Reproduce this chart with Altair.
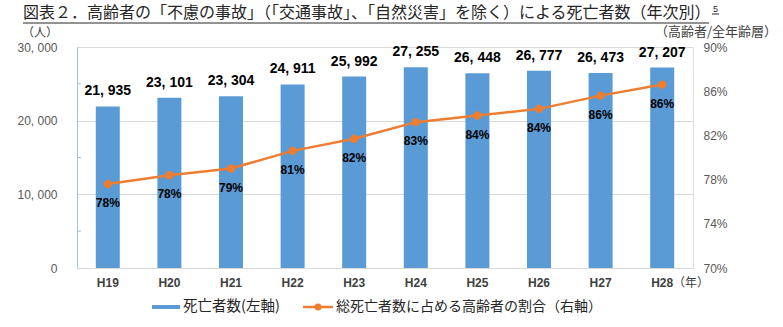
import altair as alt
import pandas as pd

years = ["H19", "H20", "H21", "H22", "H23", "H24", "H25", "H26", "H27", "H28"]
deaths = [21935, 23101, 23304, 24911, 25992, 27255, 26448, 26777, 26473, 27207]
ratio = [77.6, 78.4, 79.0, 80.6, 81.7, 83.2, 83.8, 84.4, 85.6, 86.6]
ratio_labels = ["78%", "78%", "79%", "81%", "82%", "83%", "84%", "84%", "86%", "86%"]
minor_ticks = [5000, 15000, 25000]

title_text = "図表２．高齢者の「不慮の事故」（「交通事故」、「自然災害」を除く）による死亡者数（年次別）"
left_unit = "（人）"
right_unit = "（高齢者/全年齢層）"
x_unit = "（年）"
legend_bar = "死亡者数(左軸)"
legend_line = "総死亡者数に占める高齢者の割合（右軸）"

df = pd.DataFrame({"year": years, "deaths": deaths, "ratio": ratio, "rlabel": ratio_labels})
df_minor = pd.DataFrame({"deaths": minor_ticks})

BLUE = "#5B9BD5"
ORANGE = "#ED7D31"
NUM = "Liberation Sans"
JP = "Noto Sans CJK JP"

W, H = 616, 221
PL, PT = 77, 47

x = alt.X(
    "year:N", sort=years,
    scale=alt.Scale(paddingInner=0, paddingOuter=0),
    axis=alt.Axis(title=None, labelAngle=0, domain=True, domainColor="#D9D9D9",
                  ticks=False, labelPadding=9, labelFont=NUM, labelFontSize=12,
                  labelFontWeight="bold", labelColor="#404040", grid=False),
)
yL = alt.Y(
    "deaths:Q",
    scale=alt.Scale(domain=[0, 30000]),
    axis=alt.Axis(title=None, values=[0, 10000, 20000, 30000],
                  labelExpr="replace(format(datum.value, ','), ',', ', ')",
                  grid=True, gridColor="#D9D9D9", domainColor="#9DC3E6",
                  ticks=False, tickSize=0, labelPadding=20, labelFont=NUM,
                  labelFontSize=12, labelColor="#595959"),
)
yR = alt.Y(
    "ratio:Q",
    scale=alt.Scale(domain=[70, 90]),
    axis=alt.Axis(title=None, orient="right", values=[70, 74, 78, 82, 86, 90],
                  labelExpr="datum.value + '%'", grid=False, domain=False,
                  ticks=False, tickSize=0, labelPadding=10, labelFont=NUM,
                  labelFontSize=12, labelColor="#595959"),
)

bars = alt.Chart(df).mark_bar(size=24, color=BLUE).encode(x=x, y=yL)
bar_labels = alt.Chart(df).transform_calculate(
    lbl="replace(format(datum.deaths, ','), ',', ', ')"
).mark_text(dy=-15, font=NUM, fontSize=14, fontWeight="bold", color="black").encode(
    x=x, y=yL, text="lbl:N")
minor = alt.Chart(df_minor).mark_rule(color="#9DC3E6", strokeWidth=1).encode(
    y=yL, x=alt.value(0), x2=alt.value(4))

left_layer = alt.layer(bars, bar_labels, minor)

line = alt.Chart(df).mark_line(
    color=ORANGE, strokeWidth=2.5,
    point=alt.OverlayMarkDef(color=ORANGE, size=70, filled=True, opacity=1),
).encode(x=x, y=yR)
pct_labels = alt.Chart(df).mark_text(dy=19, font=NUM, fontSize=12, fontWeight="bold", color="black").encode(
    x=x, y=yR, text="rlabel:N")
right_layer = alt.layer(line, pct_labels)

one = pd.DataFrame({"a": [0]})


def label(txt, px, py, size=12, color="#595959", align="left", weight="normal", font=JP):
    return alt.Chart(pd.DataFrame({"t": [txt]})).mark_text(
        align=align, baseline="middle", fontSize=size, color=color, font=font, fontWeight=weight
    ).encode(text="t:N", x=alt.value(px - PL), y=alt.value(py - PT))


annotations = alt.layer(
    label(title_text, 23, 13, size=16, color="#262626"),
    alt.Chart(one).mark_rule(color="#262626", strokeWidth=1).encode(
        x=alt.value(23 - PL), x2=alt.value(709 - PL), y=alt.value(23 - PT)),
    label("5", 713, 9, size=9, color="#262626", font="Liberation Sans"),
    alt.Chart(one).mark_rule(color="#262626", strokeWidth=1).encode(
        x=alt.value(712 - PL), x2=alt.value(719 - PL), y=alt.value(14 - PT)),
    label(left_unit, 22, 33, size=12, color="#404040"),
    label(right_unit, 655, 32, size=13, color="#404040"),
    label(x_unit, 673, 283, size=12, color="#404040"),
    alt.Chart(one).mark_rect(color=BLUE).encode(
        x=alt.value(152 - PL), x2=alt.value(180 - PL), y=alt.value(305 - PT), y2=alt.value(309 - PT)),
    label(legend_bar, 183, 307, size=14.5, color="#262626"),
    alt.Chart(one).mark_rule(color=ORANGE, strokeWidth=2.5).encode(
        x=alt.value(303 - PL), x2=alt.value(333 - PL), y=alt.value(307 - PT)),
    alt.Chart(one).mark_point(color=ORANGE, filled=True, size=50, opacity=1).encode(
        x=alt.value(318 - PL), y=alt.value(307 - PT)),
    label(legend_line, 336, 307, size=14, color="#262626"),
)

chart = alt.layer(left_layer, right_layer, annotations).resolve_scale(y="independent").properties(
    width=W, height=H,
    autosize=alt.AutoSizeParams(type="none"),
    padding={"left": PL, "top": PT, "right": 783 - PL - W, "bottom": 327 - PT - H},
).configure_view(stroke=None).configure(background="white")

chart.save("out.html", embed_options={"renderer": "svg", "actions": False})
